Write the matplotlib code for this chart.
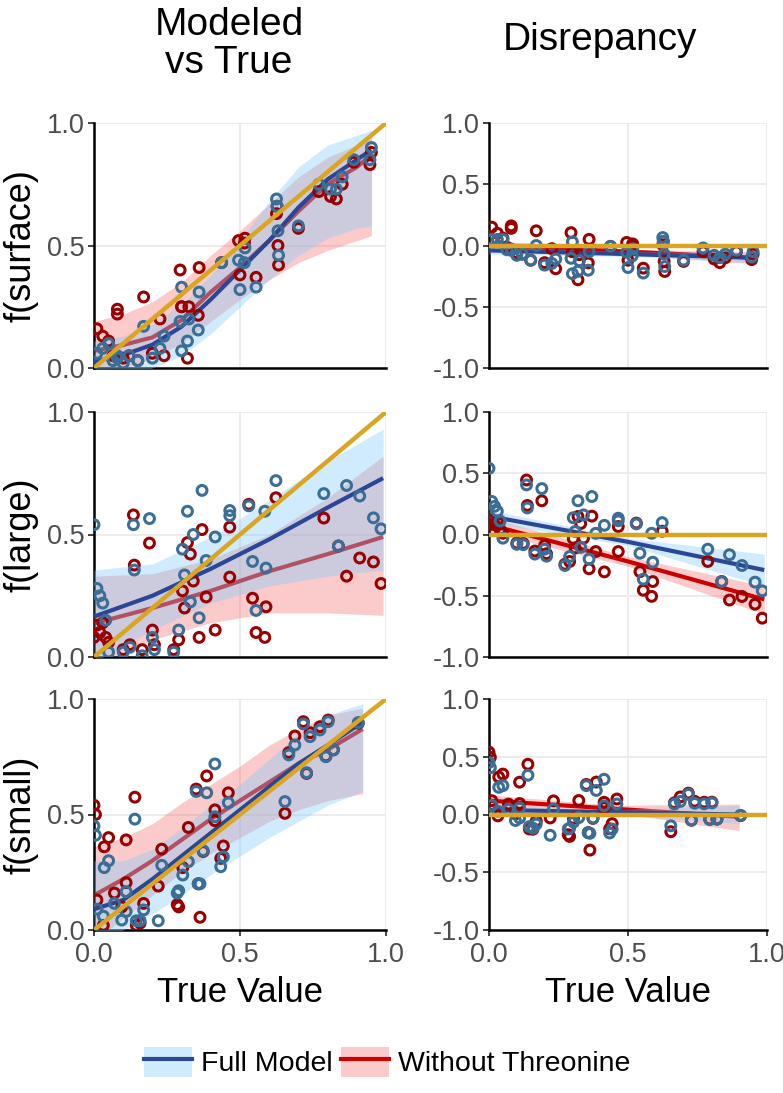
import numpy as np
import matplotlib
matplotlib.use('Agg')
import matplotlib.pyplot as plt
from matplotlib.patches import Patch
from matplotlib.lines import Line2D
from matplotlib.ticker import FormatStrFormatter

plt.rcParams['font.family'] = ['Liberation Sans', 'DejaVu Sans']
plt.rcParams['axes.unicode_minus'] = False

# ---------------- data ----------------
row_labels = ['f(surface)', 'f(large)', 'f(small)']
col_titles = ['Modeled\nvs True', 'Disrepancy']
legend_labels = ['Full Model', 'Without Threonine']

# surface: true value, full model estimate, estimate without threonine
surf_true = [0.01, 0.03, 0.05, 0.065, 0.08, 0.08, 0.10, 0.12, 0.15, 0.17, 0.20, 0.226, 0.24,
             0.295, 0.30, 0.30, 0.32, 0.325, 0.357, 0.36, 0.437, 0.495, 0.50, 0.515, 0.517,
             0.555, 0.625, 0.627, 0.63, 0.632, 0.70, 0.77, 0.81, 0.83, 0.85, 0.89, 0.945, 0.95]
surf_full = [0.06, 0.08, 0.10, 0.03, 0.05, 0.04, 0.02, 0.05, 0.03, 0.17, 0.04, 0.08, 0.13,
             0.19, 0.33, 0.07, 0.11, 0.20, 0.155, 0.31, 0.43, 0.44, 0.32, 0.43, 0.49,
             0.33, 0.69, 0.66, 0.56, 0.46, 0.58, 0.75, 0.73, 0.73, 0.78, 0.85, 0.85, 0.90]
surf_wo = [0.16, 0.13, 0.11, 0.05, 0.24, 0.22, 0.04, 0.05, 0.03, 0.29, 0.06, 0.20, 0.05,
           0.40, 0.25, 0.25, 0.04, 0.25, 0.215, 0.41, 0.43, 0.52, 0.38, 0.51, 0.53,
           0.37, 0.63, 0.66, 0.50, 0.42, 0.57, 0.72, 0.70, 0.69, 0.75, 0.84, 0.83, 0.88]

large_true = [0.0, 0.01, 0.02, 0.03, 0.04, 0.05, 0.10, 0.123, 0.135, 0.138, 0.165, 0.19, 0.20,
              0.207, 0.273, 0.29, 0.303, 0.31, 0.32, 0.33, 0.34, 0.36, 0.37, 0.384, 0.415,
              0.465, 0.465, 0.53, 0.543, 0.555, 0.585, 0.589, 0.623, 0.787, 0.837, 0.865,
              0.91, 0.957, 0.983]
large_full = [0.54, 0.28, 0.25, 0.22, 0.15, 0.02, 0.02, 0.04, 0.54, 0.355, 0.005, 0.565, 0.08,
              0.03, 0.02, 0.11, 0.44, 0.335, 0.595, 0.225, 0.50, 0.16, 0.68, 0.394, 0.49,
              0.598, 0.577, 0.617, 0.39, 0.19, 0.595, 0.363, 0.72, 0.667, 0.453, 0.70,
              0.657, 0.568, 0.523]
large_wo = [0.08, 0.13, 0.10, 0.14, 0.08, 0.06, 0.03, 0.05, 0.58, 0.375, 0.03, 0.465, 0.11,
            0.05, 0.03, 0.07, 0.27, 0.20, 0.467, 0.42, 0.31, 0.08, 0.52, 0.245, 0.11,
            0.326, 0.53, 0.623, 0.24, 0.10, 0.08, 0.205, 0.65, 0.567, 0.453, 0.33,
            0.404, 0.388, 0.30]

small_true = [0.0, 0.005, 0.01, 0.032, 0.035, 0.05, 0.07, 0.095, 0.11, 0.11, 0.14, 0.145, 0.158,
              0.17, 0.22, 0.232, 0.285, 0.29, 0.304, 0.323, 0.35, 0.357, 0.363, 0.374, 0.386,
              0.414, 0.414, 0.434, 0.443, 0.46, 0.654, 0.667, 0.688, 0.717, 0.728, 0.74,
              0.774, 0.794, 0.802, 0.82, 0.905]
small_full = [0.45, 0.41, 0.09, 0.06, 0.27, 0.30, 0.115, 0.043, 0.166, 0.08, 0.48, 0.04, 0.04,
              0.087, 0.04, 0.28, 0.16, 0.17, 0.238, 0.296, 0.60, 0.20, 0.20, 0.343, 0.594,
              0.719, 0.49, 0.274, 0.317, 0.551, 0.556, 0.758, 0.801, 0.892, 0.681, 0.837,
              0.866, 0.75, 0.902, 0.78, 0.898]
small_wo = [0.54, 0.50, 0.13, 0.02, 0.36, 0.40, 0.16, 0.10, 0.39, 0.205, 0.575, 0.02, 0.03,
            0.115, 0.19, 0.35, 0.11, 0.10, 0.27, 0.444, 0.61, 0.20, 0.055, 0.34, 0.667,
            0.473, 0.52, 0.31, 0.364, 0.594, 0.505, 0.768, 0.84, 0.902, 0.678, 0.854,
            0.88, 0.753, 0.909, 0.78, 0.895]

# smooth (loess) curves of the left column, read at these x positions
surf_sx = [0, 0.1, 0.2, 0.3, 0.4, 0.5, 0.6, 0.7, 0.8, 0.9, 0.95]
surf_full_fit = [0.026, 0.053, 0.095, 0.169, 0.28, 0.40, 0.52, 0.655, 0.77, 0.85, 0.89]
surf_full_lo = [-0.06, -0.03, 0.0, 0.05, 0.14, 0.25, 0.36, 0.46, 0.53, 0.57, 0.58]
surf_full_hi = [0.11, 0.13, 0.18, 0.26, 0.38, 0.52, 0.68, 0.82, 0.91, 0.95, 0.97]
surf_wo_fit = [0.07, 0.094, 0.125, 0.196, 0.31, 0.41, 0.52, 0.64, 0.75, 0.82, 0.87]
surf_wo_lo = [-0.02, 0.0, 0.04, 0.10, 0.19, 0.28, 0.36, 0.43, 0.48, 0.52, 0.54]
surf_wo_hi = [0.19, 0.22, 0.27, 0.35, 0.46, 0.56, 0.67, 0.78, 0.86, 0.91, 0.94]

large_sx = [0, 0.2, 0.4, 0.6, 0.8, 0.99]
large_full_fit = [0.165, 0.25, 0.36, 0.48, 0.61, 0.73]
large_full_lo = [-0.02, 0.11, 0.22, 0.29, 0.33, 0.355]
large_full_hi = [0.355, 0.38, 0.49, 0.64, 0.80, 0.93]
large_wo_fit = [0.137, 0.20, 0.27, 0.35, 0.42, 0.49]
large_wo_lo = [-0.04, 0.07, 0.14, 0.18, 0.18, 0.17]
large_wo_hi = [0.33, 0.34, 0.40, 0.50, 0.65, 0.82]

small_sx = [0, 0.1, 0.2, 0.3, 0.4, 0.5, 0.6, 0.7, 0.8, 0.92]
small_full_fit = [0.09, 0.13, 0.22, 0.32, 0.42, 0.52, 0.62, 0.72, 0.80, 0.90]
small_full_lo = [-0.05, 0.0, 0.07, 0.15, 0.24, 0.32, 0.40, 0.47, 0.54, 0.60]
small_full_hi = [0.30, 0.30, 0.35, 0.44, 0.54, 0.63, 0.74, 0.85, 0.93, 0.98]
small_wo_fit = [0.15, 0.22, 0.30, 0.39, 0.48, 0.56, 0.64, 0.72, 0.78, 0.87]
small_wo_lo = [-0.05, 0.05, 0.15, 0.25, 0.33, 0.40, 0.47, 0.52, 0.56, 0.59]
small_wo_hi = [0.36, 0.40, 0.46, 0.55, 0.63, 0.71, 0.80, 0.87, 0.93, 0.96]

# linear fits of the disrepancy column
surf_lx = [0, 0.5, 0.95]
surf_lm_full = [-0.04, -0.07, -0.10]
surf_lm_full_lo = [-0.07, -0.09, -0.14]
surf_lm_full_hi = [-0.01, -0.05, -0.06]
surf_lm_wo = [0.0, -0.05, -0.10]
surf_lm_wo_lo = [-0.04, -0.07, -0.15]
surf_lm_wo_hi = [0.04, -0.03, -0.05]

large_lx = [0, 0.5, 0.99]
large_lm_full = [0.15, -0.06, -0.29]
large_lm_full_lo = [0.10, -0.09, -0.42]
large_lm_full_hi = [0.20, -0.03, -0.16]
large_lm_wo = [0.08, -0.22, -0.53]
large_lm_wo_lo = [0.02, -0.26, -0.65]
large_lm_wo_hi = [0.14, -0.18, -0.42]

small_lx = [0, 0.45, 0.9]
small_lm_full = [0.04, 0.02, 0.0]
small_lm_full_lo = [0.0, 0.0, -0.08]
small_lm_full_hi = [0.08, 0.04, 0.08]
small_lm_wo = [0.12, 0.05, -0.02]
small_lm_wo_lo = [0.07, 0.02, -0.14]
small_lm_wo_hi = [0.17, 0.08, 0.09]

ref_x = [0, 1]

# ---------------- styles ----------------
FULL_PT = '#3B6E96'
WO_PT = '#990000'
FULL_LN = '#2A4694'
WO_LN = '#CC0000'
GOLD = '#DAA520'
FULL_FILL = '#87CEFA'
WO_FILL = '#F66868'
TICK_COL = '#4D4D4D'

rows = [
    (surf_true, surf_full, surf_wo,
     (surf_sx, surf_full_fit, surf_full_lo, surf_full_hi, surf_wo_fit, surf_wo_lo, surf_wo_hi),
     (surf_lx, surf_lm_full, surf_lm_full_lo, surf_lm_full_hi, surf_lm_wo, surf_lm_wo_lo, surf_lm_wo_hi)),
    (large_true, large_full, large_wo,
     (large_sx, large_full_fit, large_full_lo, large_full_hi, large_wo_fit, large_wo_lo, large_wo_hi),
     (large_lx, large_lm_full, large_lm_full_lo, large_lm_full_hi, large_lm_wo, large_lm_wo_lo, large_lm_wo_hi)),
    (small_true, small_full, small_wo,
     (small_sx, small_full_fit, small_full_lo, small_full_hi, small_wo_fit, small_wo_lo, small_wo_hi),
     (small_lx, small_lm_full, small_lm_full_lo, small_lm_full_hi, small_lm_wo, small_lm_wo_lo, small_lm_wo_hi)),
]

W, H = 783, 1093
fig = plt.figure(figsize=(W / 100, H / 100), dpi=100)

# panel boxes in pixels
col_px = [(94, 386), (489, 767)]
row_px = [(123, 368), (412, 657), (699, 930)]


def draw_fits(ax, fx, full_fit, full_lo, full_hi, wo_fit, wo_lo, wo_hi):
    ax.fill_between(fx, wo_lo, wo_hi, color=WO_FILL, alpha=0.35, lw=0, zorder=1)
    ax.plot(fx, wo_fit, color=WO_LN, lw=3, zorder=2, solid_capstyle='butt')
    ax.fill_between(fx, full_lo, full_hi, color=FULL_FILL, alpha=0.4, lw=0, zorder=3)
    ax.plot(fx, full_fit, color=FULL_LN, lw=3, zorder=4, solid_capstyle='butt')


def style_axis(ax, ylim, yticks, bottom_row):
    ax.set_xlim(0, 1)
    ax.set_ylim(*ylim)
    ax.set_xticks([0, 0.5, 1])
    ax.set_yticks(yticks)
    ax.xaxis.set_major_formatter(FormatStrFormatter('%.1f'))
    ax.yaxis.set_major_formatter(FormatStrFormatter('%.1f'))
    ax.grid(True, color='#EBEBEB', lw=1.3)
    ax.set_axisbelow(True)
    for s in ['top', 'right']:
        ax.spines[s].set_visible(False)
    for s in ['left', 'bottom']:
        ax.spines[s].set_linewidth(1.8)
        ax.spines[s].set_color('black')
    ax.tick_params(labelsize=19.5, labelcolor=TICK_COL, length=4, width=1.3,
                   color='#333333', pad=3)
    ax.tick_params(axis='x', pad=5)
    if not bottom_row:
        ax.tick_params(axis='x', bottom=False, labelbottom=False)


for r, (tx, fy, wy, smooth, lm) in enumerate(rows):
    tx = np.array(tx)
    fy = np.array(fy)
    wy = np.array(wy)
    top, bot = row_px[r]
    for c in range(2):
        left, right = col_px[c]
        ax = fig.add_axes([left / W, 1 - bot / H, (right - left) / W, (bot - top) / H])
        if c == 0:
            draw_fits(ax, *smooth)
            ax.scatter(tx, wy, s=50, facecolors='none', edgecolors=WO_PT, linewidths=2.2, zorder=5)
            ax.scatter(tx, fy, s=50, facecolors='none', edgecolors=FULL_PT, linewidths=2.2, zorder=6)
            ax.plot(ref_x, ref_x, color=GOLD, lw=3.2, zorder=7, solid_capstyle='butt')
            style_axis(ax, (0, 1), [0, 0.5, 1], r == 2)
        else:
            draw_fits(ax, *lm)
            # disrepancy = modeled minus true
            ax.scatter(tx, wy - tx, s=50, facecolors='none', edgecolors=WO_PT, linewidths=2.2, zorder=5)
            ax.scatter(tx, fy - tx, s=50, facecolors='none', edgecolors=FULL_PT, linewidths=2.2, zorder=6)
            ax.plot(ref_x, [0, 0], color=GOLD, lw=3.2, zorder=7, solid_capstyle='butt')
            style_axis(ax, (-1, 1), [-1, -0.5, 0, 0.5, 1], r == 2)
    fig.text(21 / W, 1 - (top + bot) / 2 / H, row_labels[r], rotation=90,
             ha='center', va='center', fontsize=26)

# column titles and x labels
fig.text(229 / W, 1 - 44 / H, col_titles[0], ha='center', va='center', fontsize=28,
         linespacing=1.05)
fig.text(600 / W, 1 - 40 / H, col_titles[1], ha='center', va='center', fontsize=28)
fig.text(240 / W, 1 - 992 / H, 'True Value', ha='center', va='center', fontsize=25)
fig.text(628 / W, 1 - 992 / H, 'True Value', ha='center', va='center', fontsize=25)

# legend
handles = [
    (Patch(facecolor=FULL_FILL, alpha=0.4, edgecolor='none'), Line2D([], [], color=FULL_LN, lw=3)),
    (Patch(facecolor=WO_FILL, alpha=0.35, edgecolor='none'), Line2D([], [], color=WO_LN, lw=3)),
]
fig.legend(handles, legend_labels, loc='center', bbox_to_anchor=(0.494, 1 - 1062 / H),
           ncol=2, frameon=False, fontsize=20.5, handlelength=1.7, handleheight=1.25,
           columnspacing=0.3, handletextpad=0.3)

fig.savefig('out.png', dpi=100)
